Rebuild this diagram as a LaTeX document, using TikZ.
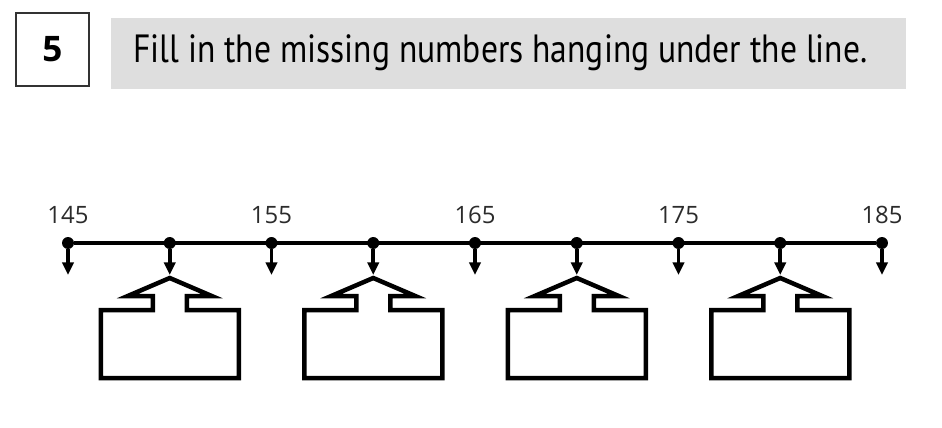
\documentclass[tikz,border=0pt]{standalone}
\usepackage{fontspec}
\setsansfont{Open Sans}
\newfontfamily\titlefont{PT Sans}
\usetikzlibrary{arrows.meta}
\usetikzlibrary{positioning}
\definecolor{boxgray}{HTML}{DEDEDE}
\definecolor{numgray}{HTML}{2B2B2B}

\begin{document}
\begin{tikzpicture}[x=0.025cm,y=-0.025cm,
  tick/.style={circle,fill=black,inner sep=0pt,minimum size=8.5pt},
  hang/.style={-{Triangle[width=8pt,length=9pt]},line width=2.6pt},
  hanger/.style={line width=3.2pt,line join=miter},
  lab/.style={font=\sffamily\fontsize{17}{20}\selectfont,text=numgray,anchor=base}]
\useasboundingbox (0,0) rectangle (942,428);
\def \xa {68}
\def \dx {101.75}
\def \yl {243}
\def \ya {275}
% question number and instruction
\node[draw=black!80,line width=1pt,minimum width=1.825cm,minimum height=1.825cm,inner sep=0pt,
  font=\sffamily\bfseries\fontsize{25}{28}\selectfont] (qnum) at (52.5,49.5) {5};
\node[fill=boxgray,minimum width=19.875cm,minimum height=1.775cm,inner sep=0pt] (instr) at (508.5,53.5) {};
\node[anchor=base west,inner sep=0pt,font=\titlefont\fontsize{28}{30}\selectfont] (task) at (133,62)
  {\resizebox{18.35cm}{\height}{Fill in the missing numbers hanging under the line.}};
% number line
\foreach \i in {0,...,8} {
  \node[tick] (t\i) at (\xa+\i*\dx,\yl) {};
  \coordinate (a\i) at (\xa+\i*\dx,\ya);
  \draw[hang] (t\i) -- (a\i);
}
\draw[line width=3.2pt] (t0) -- (t8);
\foreach \i/\v in {0/145,2/155,4/165,6/175,8/185}
  \node[lab] (l\i) at (\xa+\i*\dx,223) {\v};
% hanging boxes
\foreach \i in {1,3,5,7} {
  \coordinate (h\i) at (\xa+\i*\dx,278);
  \draw[hanger] (h\i) -- ++(-42,18) -- ++(25,0) -- ++(0,14) -- ++(-52,0) -- ++(0,68)
    -- ++(138,0) -- ++(0,-68) -- ++(-52,0) -- ++(0,-14) -- ++(25,0) -- cycle;
}
\end{tikzpicture}
\end{document}
